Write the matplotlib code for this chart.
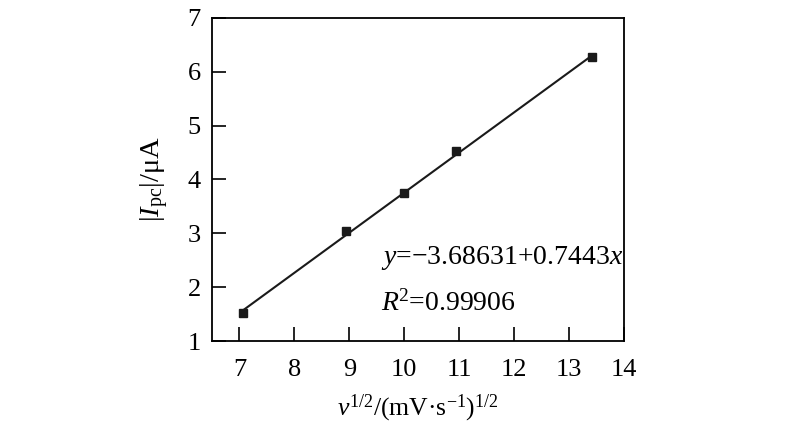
import matplotlib.pyplot as plt
import numpy as np

plt.rcParams['font.family'] = ['Liberation Serif', 'DejaVu Serif']
plt.rcParams['mathtext.fontset'] = 'custom'
plt.rcParams['mathtext.rm'] = 'Liberation Serif'
plt.rcParams['mathtext.it'] = 'Liberation Serif:italic'

# sqrt of scan rate and peak current
x_vals = [7.07, 8.94, 10.0, 10.95, 13.42]
i_vals = [1.52, 3.04, 3.74, 4.52, 6.27]
intercept = -3.68631
slope = 0.7443
x_ticks = [7, 8, 9, 10, 11, 12, 13, 14]
y_ticks = [1, 2, 3, 4, 5, 6, 7]

fig = plt.figure(figsize=(8, 4.34), dpi=100)
ax = fig.add_axes([0.265, 0.214, 0.515, 0.745])

xs = np.array([x_vals[0], x_vals[-1]])
ax.plot(xs, intercept + slope * xs, color='#1a1a1a', lw=1.5)
ax.plot(x_vals, i_vals, 's', color='#1a1a1a', ms=6)

ax.set_xlim(6.5, 14)
ax.set_ylim(1, 7)
ax.set_xticks(x_ticks)
ax.set_yticks(y_ticks)
ax.tick_params(direction='in', length=10, width=1.2, labelsize=19)
ax.tick_params(axis='x', pad=13)
ax.tick_params(axis='y', pad=8)
for s in ax.spines.values():
    s.set_linewidth(1.3)

ax.text(9.57, 2.54, r'$y$=−3.68631+0.7443$x$', fontsize=20, va='center')
ax.text(9.57, 1.71, r'$R$$^2$=0.99906', fontsize=20, va='center')

ax.set_xlabel(r'$v^{1/2}$/(mV·s$^{-1}$)$^{1/2}$', fontsize=18.5, labelpad=8)
ax.set_ylabel(r'|$I_{\mathrm{pc}}$|/μA', fontsize=20.5, labelpad=12)

fig.savefig('out.png', dpi=100)
